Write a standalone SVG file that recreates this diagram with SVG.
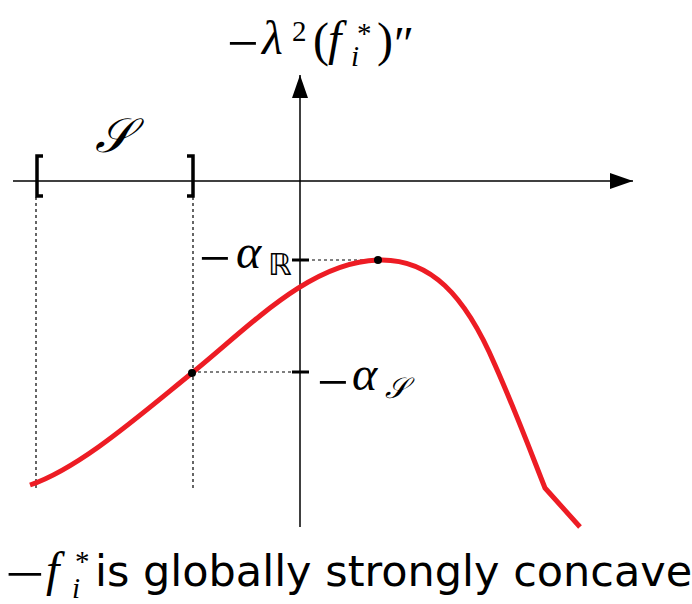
<svg xmlns="http://www.w3.org/2000/svg" width="692" height="604" viewBox="0 0 692 604">
<style>
.axis{stroke:#000;stroke-width:1.5;fill:none}
.dash{stroke:#000;stroke-width:1.2;stroke-dasharray:3,3;fill:none}
.tick{stroke:#000;stroke-width:3;fill:none}
.brk{stroke:#000;stroke-width:3.5;fill:none;stroke-linejoin:miter}
.curve{stroke:#ed1c24;stroke-width:5;fill:none;stroke-linejoin:round}
.minus{font-family:"Liberation Serif","DejaVu Serif",serif;font-size:56px;fill:#000}
.m{font-family:"Liberation Serif","DejaVu Serif",serif;font-size:48px;fill:#000}
.mi{font-family:"Liberation Serif","DejaVu Serif",serif;font-style:italic;font-size:48px;fill:#000}
.sub{font-size:29px}
.cap{font-family:"DejaVu Sans",sans-serif;font-size:43px;fill:#000}
</style>
<defs>
<marker id="ah" markerUnits="userSpaceOnUse" markerWidth="26" markerHeight="18" refX="24" refY="8" orient="auto">
<path d="M1,0 L24,8 L1,16 Z" fill="#000"/>
</marker>
</defs>
<g id="connectors">
<line class="axis" x1="13" y1="181" x2="633" y2="181" marker-end="url(#ah)"/>
<line class="axis" x1="300" y1="527" x2="300" y2="75" marker-end="url(#ah)"/>
<line class="dash" x1="36" y1="197" x2="36" y2="488"/>
<line class="dash" x1="193" y1="197" x2="193" y2="490"/>
<line class="dash" x1="300" y1="260" x2="378" y2="260"/>
<line class="dash" x1="192" y1="372" x2="300" y2="372"/>
<line class="tick" x1="292" y1="260" x2="309" y2="260"/>
<line class="tick" x1="292" y1="372" x2="309" y2="372"/>
</g>
<g id="interval">
<path class="brk" d="M43,156 L37,156 L37,196 L43,196"/>
<path class="brk" d="M187,156 L193,156 L193,196 L187,196"/>
<text class="mi" x="95" y="152" font-size="36">𝒮</text>
</g>
<g id="curve">
<path class="curve" d="M30,485 C80,468 140,415 192,373 C250,326 310,262 378,260 C430,258 465,295 495,365 C515,410 530,450 545,488 L580,527"/>
<circle cx="192" cy="373" r="4" fill="#000"/>
<circle cx="378" cy="260" r="4" fill="#000"/>
</g>
<g id="ylabel">
<text class="minus" x="227" y="62">−</text>
<text class="mi" x="262" y="54">λ</text>
<text class="m sub" x="292" y="41">2</text>
<text class="m" x="313" y="56">(</text>
<text class="mi" x="328" y="55">f</text>
<text class="m sub" x="357" y="43">*</text>
<text class="mi sub" x="351" y="66">i</text>
<text class="m" x="377" y="56">)</text>
<text class="m" x="394" y="60" font-family="DejaVu Serif">″</text>
</g>
<g id="alphaR">
<text class="minus" x="199" y="277">−</text>
<text class="mi" x="236" y="268" font-size="50">α</text>
<text x="268" y="275" font-family="DejaVu Sans" font-size="30">ℝ</text>
</g>
<g id="alphaS">
<text class="minus" x="317" y="401">−</text>
<text class="mi" x="352" y="390" font-size="50">α</text>
<text class="mi sub" x="385" y="398">𝒮</text>
</g>
<g id="caption">
<text class="minus" font-size="44" transform="translate(5,593) scale(1.25,1)">−</text>
<text class="mi" x="46" y="586">f</text>
<text class="m sub" x="75" y="571">*</text>
<text class="mi sub" x="72" y="598">i</text>
<text class="cap" x="95" y="586">is globally strongly concave</text>
</g>
</svg>
